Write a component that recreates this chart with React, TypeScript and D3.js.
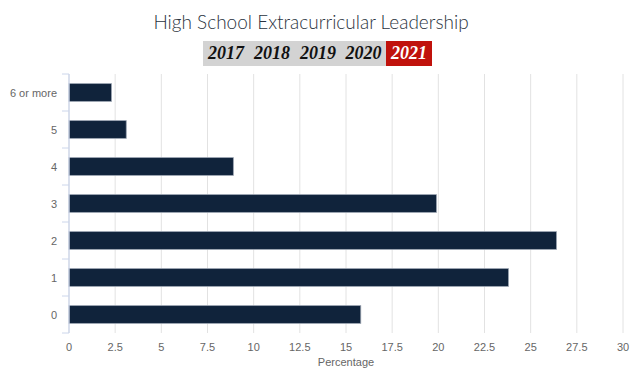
import * as d3 from "d3";

// chart data
const categories = ["6 or more", "5", "4", "3", "2", "1", "0"];
const percentages = [2.3, 3.1, 8.9, 19.9, 26.4, 23.8, 15.8];
const years = ["2017", "2018", "2019", "2020", "2021"];
const activeYear = "2021";
const xTicks = [0, 2.5, 5, 7.5, 10, 12.5, 15, 17.5, 20, 22.5, 25, 27.5, 30];

const W = 640;
const H = 373;
const margin = { top: 74, right: 17, bottom: 40, left: 69 };

const App = () => {
  const innerW = W - margin.left - margin.right;
  const innerH = H - margin.top - margin.bottom;

  const x = d3.scaleLinear().domain([0, 30]).range([0, innerW]);
  const y = d3.scaleBand().domain(categories).range([0, innerH]).paddingInner(0.52).paddingOuter(0.26);
  const band = d3.scaleBand().domain(categories).range([0, innerH]);

  // year selector
  const btnX = [203, 249, 295, 341, 386];
  const btnW = [46, 46, 46, 45, 46];

  return (
    <svg width={W} height={H} style={{ position: "absolute", left: 0, top: 0 }}>
      <rect width={W} height={H} fill="#fff" />
      <text x={311} y={29} textAnchor="middle" fontFamily="Lato, 'Open Sans', sans-serif" fontWeight={300} fontSize={19} fill="#2a3340">
        High School Extracurricular Leadership
      </text>

      {/* year buttons */}
      <rect x={btnX[0]} y={41} width={btnX[4] - btnX[0]} height={25} fill="#d3d3d3" />
      {years.map((yr, i) => (
        <g key={yr}>
          {yr === activeYear && <rect x={btnX[i]} y={41} width={btnW[i]} height={25} fill="#c0120c" />}
          <text
            x={btnX[i] + btnW[i] / 2}
            y={59}
            textAnchor="middle"
            fontFamily="'Liberation Serif', serif"
            fontStyle="italic"
            fontWeight="bold"
            fontSize={18}
            fill={yr === activeYear ? "#fff" : "#111"}
          >
            {yr}
          </text>
        </g>
      ))}

      <g transform={`translate(${margin.left},${margin.top})`}>
        {/* grid */}
        {xTicks.map((t) => (
          <line key={t} x1={x(t)} x2={x(t)} y1={0} y2={innerH} stroke="#e2e2e2" strokeWidth={1} />
        ))}
        {/* bars */}
        {categories.map((c, i) => (
          <rect
            key={c}
            x={0}
            y={y(c)}
            width={x(percentages[i])}
            height={y.bandwidth()}
            fill="#10233b"
            stroke="#9aa3b0"
            strokeWidth={0.8}
          />
        ))}
        {/* y axis */}
        <line x1={0} x2={0} y1={0} y2={innerH} stroke="#ccd6eb" strokeWidth={1.2} />
        {categories.map((c) => (
          <line key={"t" + c} x1={-7} x2={0} y1={band(c)} y2={band(c)} stroke="#ccd6eb" />
        ))}
        <line x1={-7} x2={0} y1={innerH} y2={innerH} stroke="#ccd6eb" />
        {categories.map((c) => (
          <text
            key={"l" + c}
            x={-12}
            y={(band(c) ?? 0) + band.bandwidth() / 2 + 4}
            textAnchor="end"
            fontFamily="'Liberation Sans', Arial, sans-serif"
            fontSize={11}
            fill="#666"
          >
            {c}
          </text>
        ))}
        {/* x axis labels */}
        {xTicks.map((t) => (
          <text
            key={"x" + t}
            x={x(t)}
            y={innerH + 18}
            textAnchor="middle"
            fontFamily="'Liberation Sans', Arial, sans-serif"
            fontSize={11}
            fill="#666"
          >
            {t}
          </text>
        ))}
        <text
          x={innerW / 2}
          y={innerH + 33}
          textAnchor="middle"
          fontFamily="'Liberation Sans', Arial, sans-serif"
          fontSize={11}
          fill="#666"
        >
          Percentage
        </text>
      </g>
    </svg>
  );
};

export default App;
